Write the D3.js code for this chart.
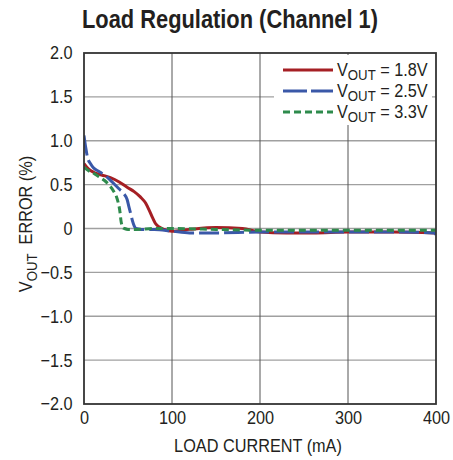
<!DOCTYPE html>
<html><head><meta charset="utf-8">
<script src="https://cdn.jsdelivr.net/npm/d3@7"></script>
<style>
body{margin:0;background:#fff;}
text{font-family:"Liberation Sans",Arial,sans-serif;fill:#231f20;}
</style></head>
<body><svg id="c" width="453" height="460"></svg>
<script>
const title = "Load Regulation (Channel 1)";
const xTicks = [0, 100, 200, 300, 400];
const yTicks = [-2.0, -1.5, -1.0, -0.5, 0, 0.5, 1.0, 1.5, 2.0];
const yTickLabels = ["\u22122.0","\u22121.5","\u22121.0","\u22120.5","0","0.5","1.0","1.5","2.0"];
const seriesNames = ["1.8V", "2.5V", "3.3V"];
const s18x = [0, 5, 11, 20, 30, 40, 49, 57, 64, 70, 74, 78, 81, 85, 91, 100, 120, 150, 180, 200, 230, 260, 300, 350, 400];
const s18y = [0.74, 0.68, 0.64, 0.61, 0.58, 0.53, 0.47, 0.42, 0.36, 0.29, 0.21, 0.12, 0.06, 0.02, -0.01, -0.03, -0.01, 0.01, 0.0, -0.04, -0.05, -0.05, -0.04, -0.04, -0.05];
const s25x = [0, 2, 4, 8, 11, 17, 23, 29, 34, 40, 45, 49, 51, 53, 55, 57, 59, 65, 80, 100, 120, 150, 200, 250, 300, 350, 398, 400];
const s25y = [1.06, 0.92, 0.81, 0.73, 0.69, 0.65, 0.61, 0.56, 0.51, 0.45, 0.40, 0.33, 0.25, 0.17, 0.09, 0.03, 0.0, -0.01, -0.01, -0.03, -0.05, -0.05, -0.04, -0.04, -0.04, -0.04, -0.05, -0.07];
const s33x = [0, 5, 11, 17, 23, 29, 34, 37, 39, 41, 42, 43, 44, 46, 50, 60, 80, 100, 150, 200, 250, 300, 350, 400];
const s33y = [0.70, 0.66, 0.63, 0.59, 0.55, 0.49, 0.42, 0.36, 0.29, 0.18, 0.09, 0.04, 0.01, 0.0, -0.01, -0.01, 0.0, 0.0, -0.01, -0.02, -0.02, -0.02, -0.02, -0.02];
const colors = ["#a51f24", "#3a58a8", "#2e8b4c"];
const dashes = [null, "20,5", "7,4"];
const SX = 0.88;
const FS = "18.5px";

const svg = d3.select("#c");
const m = {l:84, r:436, t:53, b:404};
const x = d3.scaleLinear().domain([0,400]).range([m.l, m.r]);
const y = d3.scaleLinear().domain([-2,2]).range([m.b, m.t]);

svg.append("text").attr("x",230).attr("y",28).attr("text-anchor","middle")
  .attr("textLength",296).attr("lengthAdjust","spacingAndGlyphs")
  .style("font-size","26px").style("font-weight","bold").text(title);

// grid
svg.append("g").selectAll("line").data(yTicks.slice(1,-1)).join("line")
  .attr("x1",m.l).attr("x2",m.r).attr("y1",d=>y(d)).attr("y2",d=>y(d))
  .attr("stroke","#a0a0a0").attr("stroke-width",1.4);
svg.append("g").selectAll("line").data(xTicks.slice(1,-1)).join("line")
  .attr("x1",d=>x(d)).attr("x2",d=>x(d)).attr("y1",m.t).attr("y2",m.b)
  .attr("stroke","#555").attr("stroke-width",1);

// legend background
svg.append("rect").attr("x",274).attr("y",55).attr("width",158).attr("height",70).attr("fill","#fff");

// series
const sets = [[s18x,s18y],[s25x,s25y],[s33x,s33y]];
const line = d3.line().x(d=>x(d[0])).y(d=>y(d[1])).curve(d3.curveMonotoneX);
svg.append("defs").append("clipPath").attr("id","clip").append("rect")
  .attr("x",m.l).attr("y",m.t).attr("width",m.r-m.l).attr("height",m.b-m.t);
[0,1,2].forEach(i=>{
  const pts = sets[i][0].map((v,k)=>[v, sets[i][1][k]]);
  svg.append("path").attr("d",line(pts)).attr("fill","none").attr("clip-path","url(#clip)")
    .attr("stroke",colors[i]).attr("stroke-width",3)
    .attr("stroke-dasharray",dashes[i]);
});

// frame
svg.append("rect").attr("x",m.l).attr("y",m.t).attr("width",m.r-m.l).attr("height",m.b-m.t)
  .attr("fill","none").attr("stroke","#333").attr("stroke-width",1.8);

// axes labels
const xa = d3.axisBottom(x).tickValues(xTicks).tickSize(0).tickPadding(7);
const gx = svg.append("g").attr("transform",`translate(0,${m.b})`).call(xa);
gx.select(".domain").remove();
gx.selectAll("text").style("font-size",FS).attr("fill","#231f20").attr("font-family",null)
  .attr("transform",`scale(${SX},1)`);

const ya = d3.axisLeft(y).tickValues(yTicks).tickFormat((d,i)=>yTickLabels[i]).tickSize(0).tickPadding(13);
const gy = svg.append("g").attr("transform",`translate(${m.l},0)`).call(ya);
gy.select(".domain").remove();
gy.selectAll("text").style("font-size",FS).attr("fill","#231f20").attr("font-family",null)
  .attr("transform",`scale(${SX},1)`);

svg.append("text").attr("text-anchor","middle")
  .attr("transform",`translate(258,452) scale(${SX},1)`)
  .style("font-size",FS).text("LOAD CURRENT (mA)");

const yt = svg.append("text").attr("transform",`translate(32,224) rotate(-90) scale(${SX},1)`).attr("text-anchor","middle")
  .style("font-size",FS);
yt.append("tspan").text("V");
yt.append("tspan").attr("dy",5).style("font-size","15px").text("OUT");
yt.append("tspan").attr("dy",-5).text("\u00a0\u00a0ERROR (%)");

// legend
const lg = svg.append("g");
seriesNames.forEach((n,i)=>{
  const yy = 70 + i*21;
  lg.append("line").attr("x1",283).attr("x2",333).attr("y1",yy).attr("y2",yy)
    .attr("stroke",colors[i]).attr("stroke-width",3).attr("stroke-dasharray", i==1?"24,4":(i==2?"7,4":null));
  const t = lg.append("text").attr("transform",`translate(337,${yy+6}) scale(${SX},1)`).style("font-size",FS);
  t.append("tspan").text("V");
  t.append("tspan").attr("dy",4).style("font-size","15px").text("OUT");
  t.append("tspan").attr("dy",-4).text(" = " + n);
});
</script></body></html>
